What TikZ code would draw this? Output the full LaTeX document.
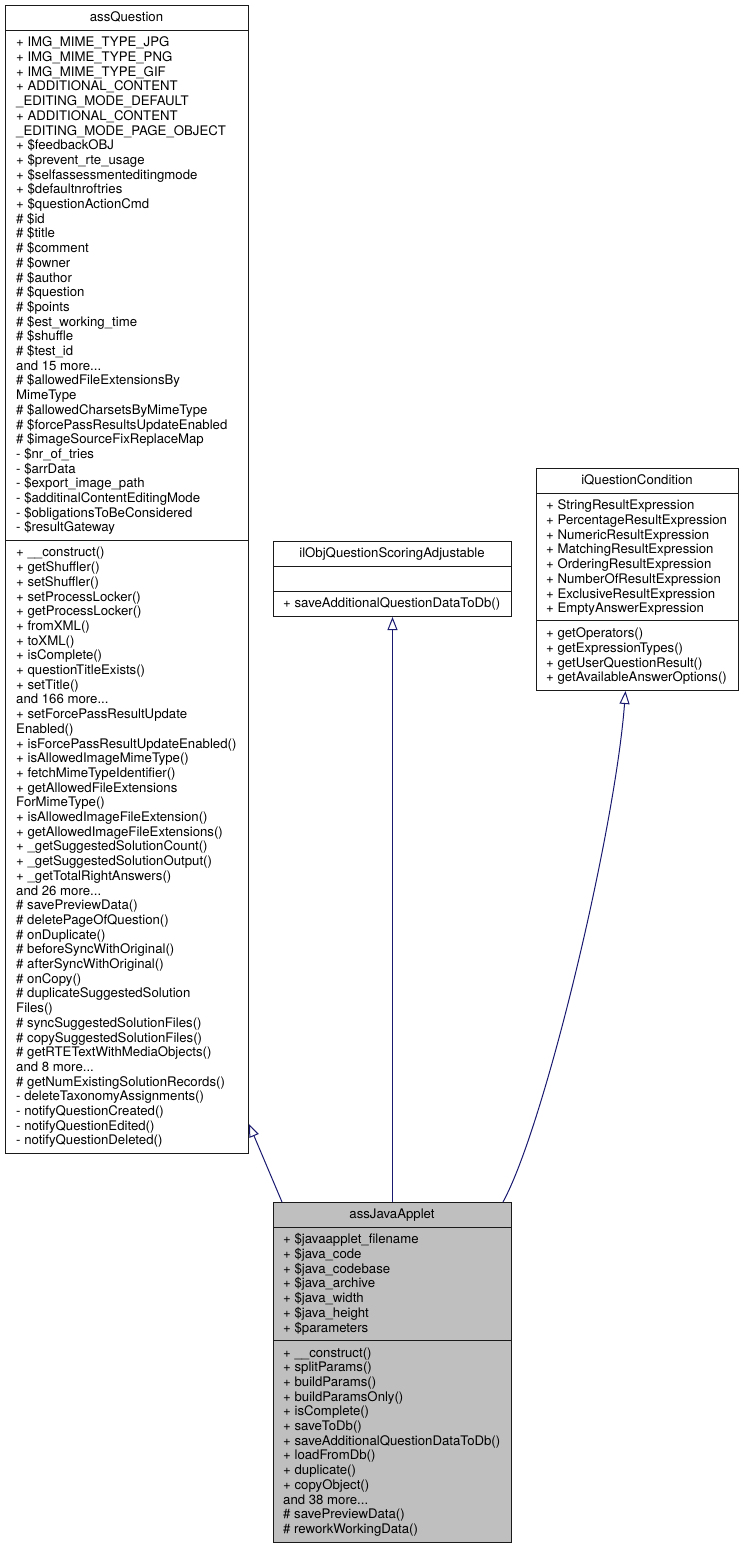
\documentclass[tikz,border=0pt]{standalone}
\usepackage{fontspec}
\setmainfont{TeX Gyre Heros}
\usetikzlibrary{arrows.meta}
\definecolor{edgeblue}{HTML}{191970}
\definecolor{boxgrey}{HTML}{BFBFBF}
\definecolor{boxline}{HTML}{1A1A1A}
\newcommand\mydots{...}
\newcommand\umlrows[4]{%
  \foreach \txt [count=\i] in {#4} {\node[row] (#3\i) at (#1,{#2+(\i-1)*14.7}) {\txt};}}
\tikzset{
  row/.style={anchor=base west, inner sep=0pt, font=\fontsize{13.2}{14.7}\selectfont},
  ttl/.style={anchor=base, inner sep=0pt, font=\fontsize{13.2}{14.7}\selectfont},
  classbox/.style={draw=boxline, line width=1pt, anchor=north west, inner sep=0pt},
  sepline/.style={draw=boxline, line width=1pt},
  inherit/.style={draw=edgeblue, line width=1pt, -{Triangle[open,length=13pt,width=10pt]}},
}
\begin{document}
\begin{tikzpicture}[x=1pt,y=-1pt]
\useasboundingbox (0,0) rectangle (744,1548);
% ---------------- assQuestion
\node[classbox, minimum width=243pt, minimum height=1148pt] (q) at (5,5) {};
\draw[sepline] ([yshift=-25pt]q.north west) -- ([yshift=-25pt]q.north east);
\draw[sepline] ([yshift=-535.1pt]q.north west) -- ([yshift=-535.1pt]q.north east);
\node[ttl] (qt) at (126.5,21.8) {assQuestion};
\umlrows{16}{46.8}{qa}{
+ IMG\_MIME\_TYPE\_JPG,
+ IMG\_MIME\_TYPE\_PNG,
+ IMG\_MIME\_TYPE\_GIF,
+ ADDITIONAL\_CONTENT,
\_EDITING\_MODE\_DEFAULT,
+ ADDITIONAL\_CONTENT,
\_EDITING\_MODE\_PAGE\_OBJECT,
+ \$feedbackOBJ,
+ \$prevent\_rte\_usage,
+ \$selfassessmenteditingmode,
+ \$defaultnroftries,
+ \$questionActionCmd,
\# \$id,
\# \$title,
\# \$comment,
\# \$owner,
\# \$author,
\# \$question,
\# \$points,
\# \$est\_working\_time,
\# \$shuffle,
\# \$test\_id,
and 15 more\mydots,
\# \$allowedFileExtensionsBy,
MimeType,
\# \$allowedCharsetsByMimeType,
\# \$forcePassResultsUpdateEnabled,
\# \$imageSourceFixReplaceMap,
- \$nr\_of\_tries,
- \$arrData,
- \$export\_image\_path,
- \$additinalContentEditingMode,
- \$obligationsToBeConsidered,
- \$resultGateway}
\umlrows{16}{556.9}{qm}{
+ \_\_construct(),
+ getShuffler(),
+ setShuffler(),
+ setProcessLocker(),
+ getProcessLocker(),
+ fromXML(),
+ toXML(),
+ isComplete(),
+ questionTitleExists(),
+ setTitle(),
and 166 more\mydots,
+ setForcePassResultUpdate,
Enabled(),
+ isForcePassResultUpdateEnabled(),
+ isAllowedImageMimeType(),
+ fetchMimeTypeIdentifier(),
+ getAllowedFileExtensions,
ForMimeType(),
+ isAllowedImageFileExtension(),
+ getAllowedImageFileExtensions(),
+ \_getSuggestedSolutionCount(),
+ \_getSuggestedSolutionOutput(),
+ \_getTotalRightAnswers(),
and 26 more\mydots,
\# savePreviewData(),
\# deletePageOfQuestion(),
\# onDuplicate(),
\# beforeSyncWithOriginal(),
\# afterSyncWithOriginal(),
\# onCopy(),
\# duplicateSuggestedSolution,
Files(),
\# syncSuggestedSolutionFiles(),
\# copySuggestedSolutionFiles(),
\# getRTETextWithMediaObjects(),
and 8 more\mydots,
\# getNumExistingSolutionRecords(),
- deleteTaxonomyAssignments(),
- notifyQuestionCreated(),
- notifyQuestionEdited(),
- notifyQuestionDeleted()}
% ---------------- ilObjQuestionScoringAdjustable
\node[classbox, minimum width=238pt, minimum height=75pt] (ilo) at (273,541) {};
\draw[sepline] ([yshift=-25pt]ilo.north west) -- ([yshift=-25pt]ilo.north east);
\draw[sepline] ([yshift=-50pt]ilo.north west) -- ([yshift=-50pt]ilo.north east);
\node[ttl] (ilot) at (392,557.8) {ilObjQuestionScoringAdjustable};
\umlrows{283}{607.8}{ilom}{+ saveAdditionalQuestionDataToDb()}
% ---------------- iQuestionCondition
\node[classbox, minimum width=202pt, minimum height=222pt] (iqc) at (536,468) {};
\draw[sepline] ([yshift=-25pt]iqc.north west) -- ([yshift=-25pt]iqc.north east);
\draw[sepline] ([yshift=-152.9pt]iqc.north west) -- ([yshift=-152.9pt]iqc.north east);
\node[ttl] (iqct) at (637,484.8) {iQuestionCondition};
\umlrows{546}{509.8}{iqca}{
+ StringResultExpression,
+ PercentageResultExpression,
+ NumericResultExpression,
+ MatchingResultExpression,
+ OrderingResultExpression,
+ NumberOfResultExpression,
+ ExclusiveResultExpression,
+ EmptyAnswerExpression}
\umlrows{546}{637.7}{iqcm}{
+ getOperators(),
+ getExpressionTypes(),
+ getUserQuestionResult(),
+ getAvailableAnswerOptions()}
% ---------------- assJavaApplet
\node[classbox, fill=boxgrey, minimum width=238pt, minimum height=340pt] (ja) at (273,1202) {};
\draw[sepline] ([yshift=-25pt]ja.north west) -- ([yshift=-25pt]ja.north east);
\draw[sepline] ([yshift=-138.2pt]ja.north west) -- ([yshift=-138.2pt]ja.north east);
\node[ttl] (jat) at (392,1218.8) {assJavaApplet};
\umlrows{283}{1243.8}{jaa}{
+ \$javaapplet\_filename,
+ \$java\_code,
+ \$java\_codebase,
+ \$java\_archive,
+ \$java\_width,
+ \$java\_height,
+ \$parameters}
\umlrows{283}{1357}{jam}{
+ \_\_construct(),
+ splitParams(),
+ buildParams(),
+ buildParamsOnly(),
+ isComplete(),
+ saveToDb(),
+ saveAdditionalQuestionDataToDb(),
+ loadFromDb(),
+ duplicate(),
+ copyObject(),
and 38 more\mydots,
\# savePreviewData(),
\# reworkWorkingData()}
% ---------------- inheritance edges
\draw[inherit] ([xshift=9pt]ja.north west) -- ([yshift=30pt]q.south east);
\draw[inherit] (ja.north) -- (ilo.south);
\draw[inherit] ([xshift=-9pt]ja.north east) .. controls (545,1125) and (615,830) .. ([xshift=-12pt]iqc.south);
\end{tikzpicture}
\end{document}
